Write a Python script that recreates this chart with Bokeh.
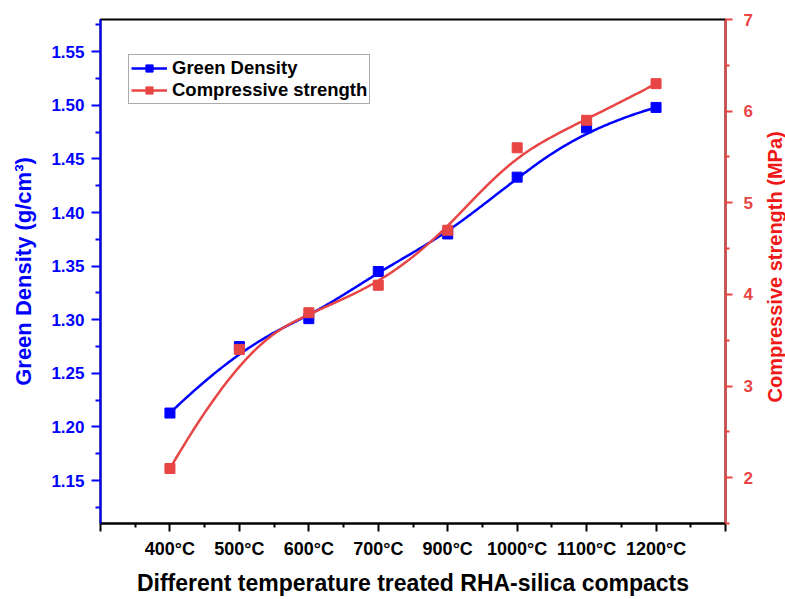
import math
import numpy as np
from bokeh.plotting import figure
from bokeh.layouts import row
from bokeh.models import (Range1d, LinearAxis, FixedTicker, Legend, LegendItem, Label,
                          NumeralTickFormatter)
from bokeh.embed import file_html
from bokeh.resources import INLINE

# ---- data ----
temperatures = ["400°C", "500°C", "600°C", "700°C", "900°C", "1000°C", "1100°C", "1200°C"]
green_density = [1.213, 1.275, 1.301, 1.345, 1.380, 1.433, 1.479, 1.498]
compressive_strength = [2.1, 3.4, 3.8, 4.1, 4.7, 5.6, 5.9, 6.3]
density_ticks = [1.15, 1.20, 1.25, 1.30, 1.35, 1.40, 1.45, 1.50, 1.55]
strength_ticks = [2, 3, 4, 5, 6, 7]

BLUE = "#0000ff"
RED = "#e84545"
RED_LABEL = "#f01818"
FONT = "Liberation Sans"

positions = list(range(1, len(temperatures) + 1))


def bspline(xs, ys, degree=3, n=400):
    """Clamped uniform B-spline using the data points as control points."""
    xs = np.asarray(xs, float)
    ys = np.asarray(ys, float)
    m = len(xs)
    k = degree
    knots = np.concatenate([np.zeros(k), np.arange(m - k + 1), np.full(k, m - k)]).astype(float)
    t = np.linspace(0, m - k, n)
    t[-1] -= 1e-9

    def N(i, p, tt):
        if p == 0:
            return ((knots[i] <= tt) & (tt < knots[i + 1])).astype(float)
        out = np.zeros_like(tt)
        d1 = knots[i + p] - knots[i]
        if d1 > 0:
            out = out + (tt - knots[i]) / d1 * N(i, p - 1, tt)
        d2 = knots[i + p + 1] - knots[i + 1]
        if d2 > 0:
            out = out + (knots[i + p + 1] - tt) / d2 * N(i + 1, p - 1, tt)
        return out

    B = np.array([N(i, k, t) for i in range(m)])
    return B.T @ xs, B.T @ ys


p = figure(width=760, height=599,
           x_range=Range1d(0, 9), y_range=Range1d(1.11, 1.58),
           output_backend="svg", toolbar_location=None,
           min_border_left=100, min_border_right=35,
           min_border_top=19, min_border_bottom=76)
p.extra_y_ranges = {"cs": Range1d(1.5, 7)}
p.xgrid.visible = False
p.ygrid.visible = False
p.outline_line_color = "black"
p.outline_line_width = 2
p.background_fill_color = "white"
p.border_fill_color = "white"

# x axis
xa = p.xaxis[0]
xa.ticker = FixedTicker(ticks=list(range(0, 10)), minor_ticks=[i + 0.5 for i in range(0, 9)])
overrides = {0: ""}
overrides.update({pos: lab for pos, lab in zip(positions, temperatures)})
overrides[9] = ""
xa.major_label_overrides = overrides
xa.axis_label = "Different temperature treated RHA-silica compacts"
xa.axis_label_text_font = FONT
xa.axis_label_text_font_style = "bold"
xa.axis_label_text_font_size = "23px"
xa.axis_label_text_color = "black"
xa.axis_label_standoff = 8
xa.major_label_text_font = FONT
xa.major_label_text_font_style = "bold"
xa.major_label_text_font_size = "18px"
xa.major_label_text_color = "black"
xa.major_label_standoff = 7
xa.axis_line_color = "black"
xa.axis_line_width = 2
xa.major_tick_line_color = "black"
xa.major_tick_line_width = 2
xa.major_tick_out = 8
xa.major_tick_in = 0
xa.minor_tick_line_color = "black"
xa.minor_tick_line_width = 2
xa.minor_tick_out = 4
xa.minor_tick_in = 0

# left axis
ya = p.yaxis[0]
ya.ticker = FixedTicker(ticks=density_ticks,
                        minor_ticks=[v - 0.025 for v in density_ticks] + [1.575])
ya.formatter = NumeralTickFormatter(format="0.00")
ya.axis_label = "Green Density (g/cm³)"
ya.axis_label_text_font = FONT
ya.axis_label_text_font_style = "bold"
ya.axis_label_text_font_size = "22px"
ya.axis_label_text_color = BLUE
ya.axis_label_standoff = 12
ya.major_label_text_font = FONT
ya.major_label_text_font_style = "bold"
ya.major_label_text_font_size = "17px"
ya.major_label_text_color = BLUE
ya.major_label_standoff = 7
ya.axis_line_color = BLUE
ya.axis_line_width = 2
ya.major_tick_line_color = BLUE
ya.major_tick_line_width = 2
ya.major_tick_out = 9
ya.major_tick_in = 0
ya.minor_tick_line_color = BLUE
ya.minor_tick_line_width = 2
ya.minor_tick_out = 5
ya.minor_tick_in = 0

# right axis
ra = LinearAxis(y_range_name="cs",
                ticker=FixedTicker(ticks=strength_ticks,
                                   minor_ticks=[v - 0.5 for v in strength_ticks]))
ra.major_label_text_font = FONT
ra.major_label_text_font_style = "bold"
ra.major_label_text_font_size = "17px"
ra.major_label_text_color = RED
ra.major_label_standoff = 11
ra.axis_line_color = RED
ra.axis_line_width = 2
ra.major_tick_line_color = RED
ra.major_tick_line_width = 2
ra.major_tick_out = 7
ra.major_tick_in = 0
ra.minor_tick_line_color = RED
ra.minor_tick_line_width = 2
ra.minor_tick_out = 4
ra.minor_tick_in = 0
p.add_layout(ra, "right")

# curves
bx, by = bspline(positions, green_density)
rx, rycurve = bspline(positions, compressive_strength)

blue_line = p.line(bx, by, line_color=BLUE, line_width=2.5)
blue_pts = p.scatter(positions, green_density, marker="square", size=10,
                     fill_color=BLUE, line_color=BLUE)
red_line = p.line(rx, rycurve, line_color=RED, line_width=2.5, y_range_name="cs")
red_pts = p.scatter(positions, compressive_strength, marker="square", size=10,
                    fill_color=RED, line_color=RED, y_range_name="cs")

legend = Legend(items=[
    LegendItem(label="Green Density", renderers=[blue_line, blue_pts]),
    LegendItem(label="Compressive strength", renderers=[red_line, red_pts]),
], location=(28, 419))
legend.label_text_font = FONT
legend.label_text_font_style = "bold"
legend.label_text_font_size = "18.5px"
legend.label_text_color = "black"
legend.border_line_color = "#555555"
legend.border_line_width = 1
legend.background_fill_alpha = 1
legend.glyph_width = 36
legend.glyph_height = 18
legend.label_standoff = 5
legend.padding = 2
legend.spacing = 0
legend.margin = 0
legend.label_height = 18
p.add_layout(legend)

# narrow strip to the right holding the right-axis title (reads bottom-to-top)
p2 = figure(width=25, height=599, x_range=Range1d(0, 25), y_range=Range1d(0, 599),
            x_axis_location=None, y_axis_location=None,
            output_backend="svg", toolbar_location=None,
            min_border_left=0, min_border_right=0, min_border_top=0, min_border_bottom=0)
p2.grid.visible = False
p2.outline_line_color = None
p2.background_fill_color = "white"
p2.border_fill_color = "white"
p2.add_layout(Label(x=14, y=305, text="Compressive strength (MPa)", angle=math.pi / 2,
                    text_align="center", text_baseline="middle",
                    text_font=FONT, text_font_style="bold", text_font_size="20px",
                    text_color=RED_LABEL))

layout = row(p, p2, spacing=0)
open("out.html", "w").write(file_html(layout, INLINE))
